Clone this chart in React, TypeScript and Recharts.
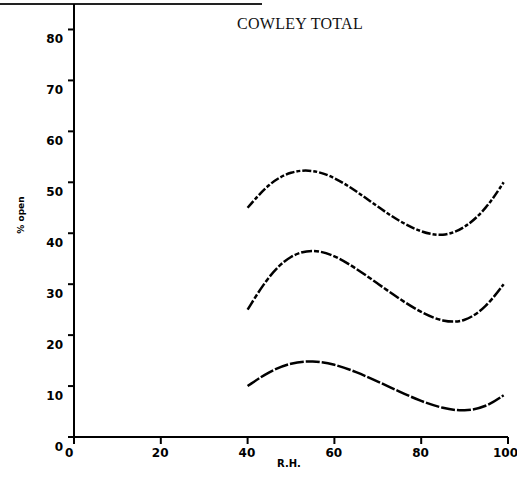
import { LineChart, Line, XAxis, YAxis, Label } from "recharts";

// R.H. readings and the three fitted % open curves
const RH = [40, 45, 50, 55, 60, 65, 70, 75, 80, 85, 90, 95, 99];
const UPPER = [45, 49.9, 52.2, 52.5, 51, 48.3, 45.2, 42.3, 40.2, 39.3, 40.9, 44.8, 50];
const MIDDLE = [25, 31.9, 35.8, 36.9, 35.7, 33.1, 30.1, 27.1, 24.4, 22.6, 22.5, 25.5, 30];
const LOWER = [10, 12.9, 14.6, 15, 14.3, 12.8, 10.9, 8.9, 7, 5.6, 5, 5.9, 8.2];

const X_TICKS = [0, 20, 40, 60, 80, 100];
const Y_TICKS = [0, 10, 20, 30, 40, 50, 60, 70, 80];

const TICK_FONT = { fontFamily: "DejaVu Sans", fontWeight: 700, fontSize: 12, fill: "#000" };

function XTick({ x, y, payload }: any) {
  const s = String(payload.value);
  const left = x - 9 - (s.length > 2 ? 6 : 0);
  return (
    <text x={left} y={y} dy={11} textAnchor="start" {...TICK_FONT}>
      {s}
    </text>
  );
}

function YTick({ x, y, payload }: any) {
  return (
    <text x={x} y={y} dy={14} textAnchor="end" {...TICK_FONT}>
      {payload.value}
    </text>
  );
}

export default function App() {
  const data = RH.map((rh, i) => ({ rh, upper: UPPER[i], middle: MIDDLE[i], lower: LOWER[i] }));
  const axis = { stroke: "#000", strokeWidth: 2 };

  return (
    <div style={{ position: "absolute", left: 0, top: 0, width: 517, height: 479, background: "#fff" }}>
      <div style={{ position: "absolute", left: 0, top: 3, width: 262, height: 1.5, background: "#222" }} />
      <div
        style={{
          position: "absolute",
          left: 237,
          top: 15,
          fontFamily: "Liberation Serif",
          fontSize: 16,
          letterSpacing: 0.3,
          color: "#111",
          whiteSpace: "nowrap",
        }}
      >
        COWLEY TOTAL
      </div>
      <LineChart width={517} height={479} data={data} margin={{ top: 4, right: 9, bottom: 12, left: 0 }}>
        <XAxis
          type="number"
          dataKey="rh"
          domain={[0, 100]}
          ticks={X_TICKS}
          interval={0}
          axisLine={axis}
          tickLine={axis}
          tickSize={7}
          tickMargin={2}
          tick={<XTick />}
          height={30}
        >
          <Label
            content={() => (
              <text x={289} y={467} textAnchor="middle" fontFamily="DejaVu Sans" fontWeight={700} fontSize={10}>
                R.H.
              </text>
            )}
          />
        </XAxis>
        <YAxis
          type="number"
          domain={[0, 85]}
          ticks={Y_TICKS}
          interval={0}
          axisLine={axis}
          tickLine={axis}
          tickSize={6}
          tickMargin={5}
          tick={<YTick />}
          width={74}
        >
          <Label
            content={() => (
              <text
                x={21}
                y={215}
                transform="rotate(-90 21 215)"
                textAnchor="middle"
                dominantBaseline="central"
                fontFamily="DejaVu Sans"
                fontWeight={700}
                fontSize={9}
              >
                % open
              </text>
            )}
          />
        </YAxis>
        <Line type="basis" dataKey="upper" stroke="#000" strokeWidth={2.5} strokeDasharray="9 2 4 2" dot={false} isAnimationActive={false} />
        <Line type="basis" dataKey="middle" stroke="#000" strokeWidth={2.5} strokeDasharray="11 2 5 2" dot={false} isAnimationActive={false} />
        <Line type="basis" dataKey="lower" stroke="#000" strokeWidth={2.5} strokeDasharray="14 2" dot={false} isAnimationActive={false} />
      </LineChart>
    </div>
  );
}
